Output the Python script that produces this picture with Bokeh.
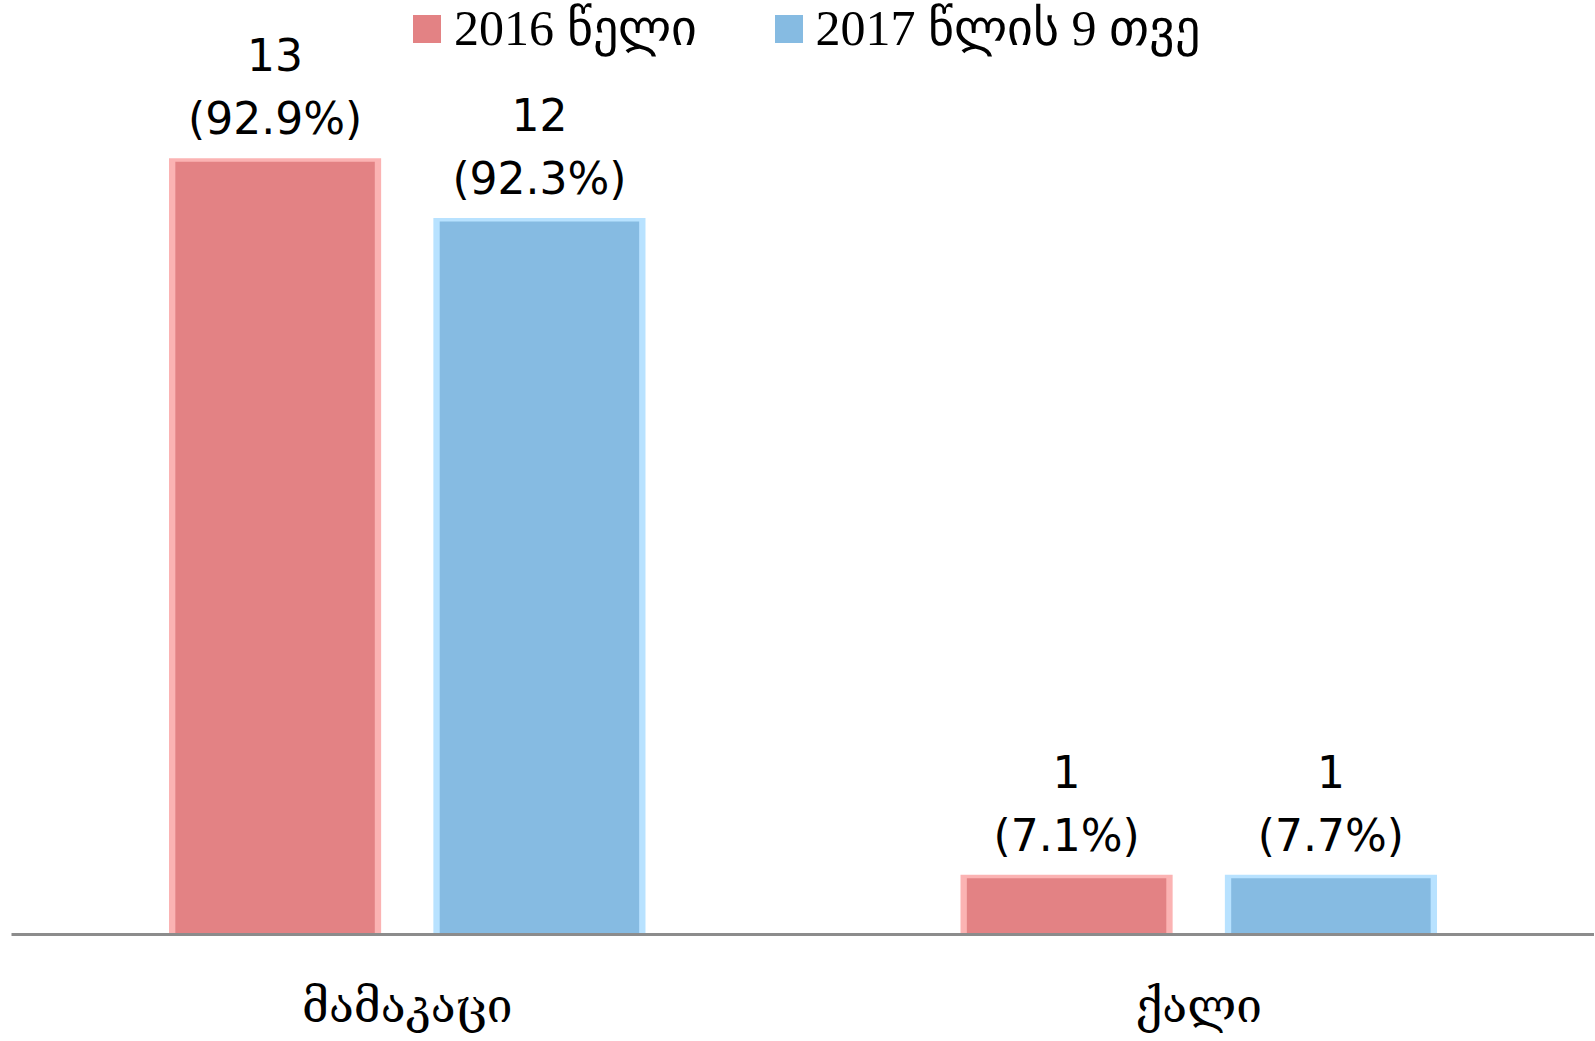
from bokeh.plotting import figure
from bokeh.models import ColumnDataSource, FactorRange, Range1d, Legend, LegendItem, LabelSet
from bokeh.transform import dodge
from bokeh.core.properties import value
from bokeh.embed import file_html
from bokeh.resources import INLINE

categories = ["მამაკაცი", "ქალი"]
series_names = ["2016 წელი", "2017 წლის 9 თვე"]
counts_2016 = [13, 1]
counts_2017 = [12, 1]
pct_2016 = [92.9, 7.1]
pct_2017 = [92.3, 7.7]

RED, RED_EDGE = "#E38284", "#FBB3B3"
BLUE, BLUE_EDGE = "#86BBE2", "#B8E2FF"
SERIF = "Liberation Serif"
AXIS_FONT = "DejaVu Serif"
SANS = "DejaVu Sans"

BAR_W = 0.268
OFF = 0.167
INSET_X = 0.008
INSET_TOP = 0.06

src = ColumnDataSource(dict(
    cat=categories,
    c16=counts_2016, c17=counts_2017,
    c16i=[v - INSET_TOP for v in counts_2016],
    c17i=[v - INSET_TOP for v in counts_2017],
    n16=[str(v) for v in counts_2016], n17=[str(v) for v in counts_2017],
    p16=[f"({v}%)" for v in pct_2016], p17=[f"({v}%)" for v in pct_2017],
))

p = figure(x_range=FactorRange(*categories, range_padding=0), y_range=Range1d(0, 15.64),
           width=1594, height=1040, output_backend="svg", toolbar_location=None,
           min_border_left=11, min_border_right=0, min_border_top=0, min_border_bottom=106)
p.outline_line_color = None
p.background_fill_color = "white"
p.xgrid.visible = False
p.ygrid.visible = False
p.yaxis.visible = False

xr = p.x_range
# bevel edges
p.vbar(x=dodge("cat", -OFF, range=xr), top="c16", width=BAR_W, source=src,
       fill_color=RED_EDGE, line_color=None)
p.vbar(x=dodge("cat", OFF, range=xr), top="c17", width=BAR_W, source=src,
       fill_color=BLUE_EDGE, line_color=None)
r16 = p.vbar(x=dodge("cat", -OFF, range=xr), top="c16i", width=BAR_W - 2 * INSET_X, source=src,
             fill_color=RED, line_color=None)
r17 = p.vbar(x=dodge("cat", OFF, range=xr), top="c17i", width=BAR_W - 2 * INSET_X, source=src,
             fill_color=BLUE, line_color=None)

for xo, ycol, ncol, pcol in [(-OFF, "c16", "n16", "p16"), (OFF, "c17", "n17", "p17")]:
    for tcol, yoff in [(pcol, 24), (ncol, 87)]:
        ls = LabelSet(x=dodge("cat", xo, range=xr), y=ycol, text=tcol, source=src,
                      text_align="center", text_baseline="alphabetic", y_offset=yoff,
                      text_font=value(SANS), text_font_size=value("44px"),
                      text_color="black")
        p.add_layout(ls)

p.xaxis.major_tick_line_color = None
p.xaxis.minor_tick_line_color = None
p.xaxis.axis_line_color = "#8C8C8C"
p.xaxis.axis_line_width = 3
p.xaxis.major_label_text_font = AXIS_FONT
p.xaxis.major_label_text_font_size = "46px"
p.xaxis.major_label_text_color = "black"
p.xaxis.major_label_standoff = 38

legend = Legend(items=[LegendItem(label=series_names[0], renderers=[r16]),
                       LegendItem(label=series_names[1], renderers=[r17])],
                orientation="horizontal", location=(398, 877),
                padding=0, margin=0, spacing=74, label_standoff=10,
                glyph_width=35, glyph_height=35,
                background_fill_alpha=0, border_line_color=None,
                label_text_font=SERIF, label_text_font_size="50px",
                label_text_color="black")
p.add_layout(legend)

open("out.html", "w").write(file_html(p, INLINE))
